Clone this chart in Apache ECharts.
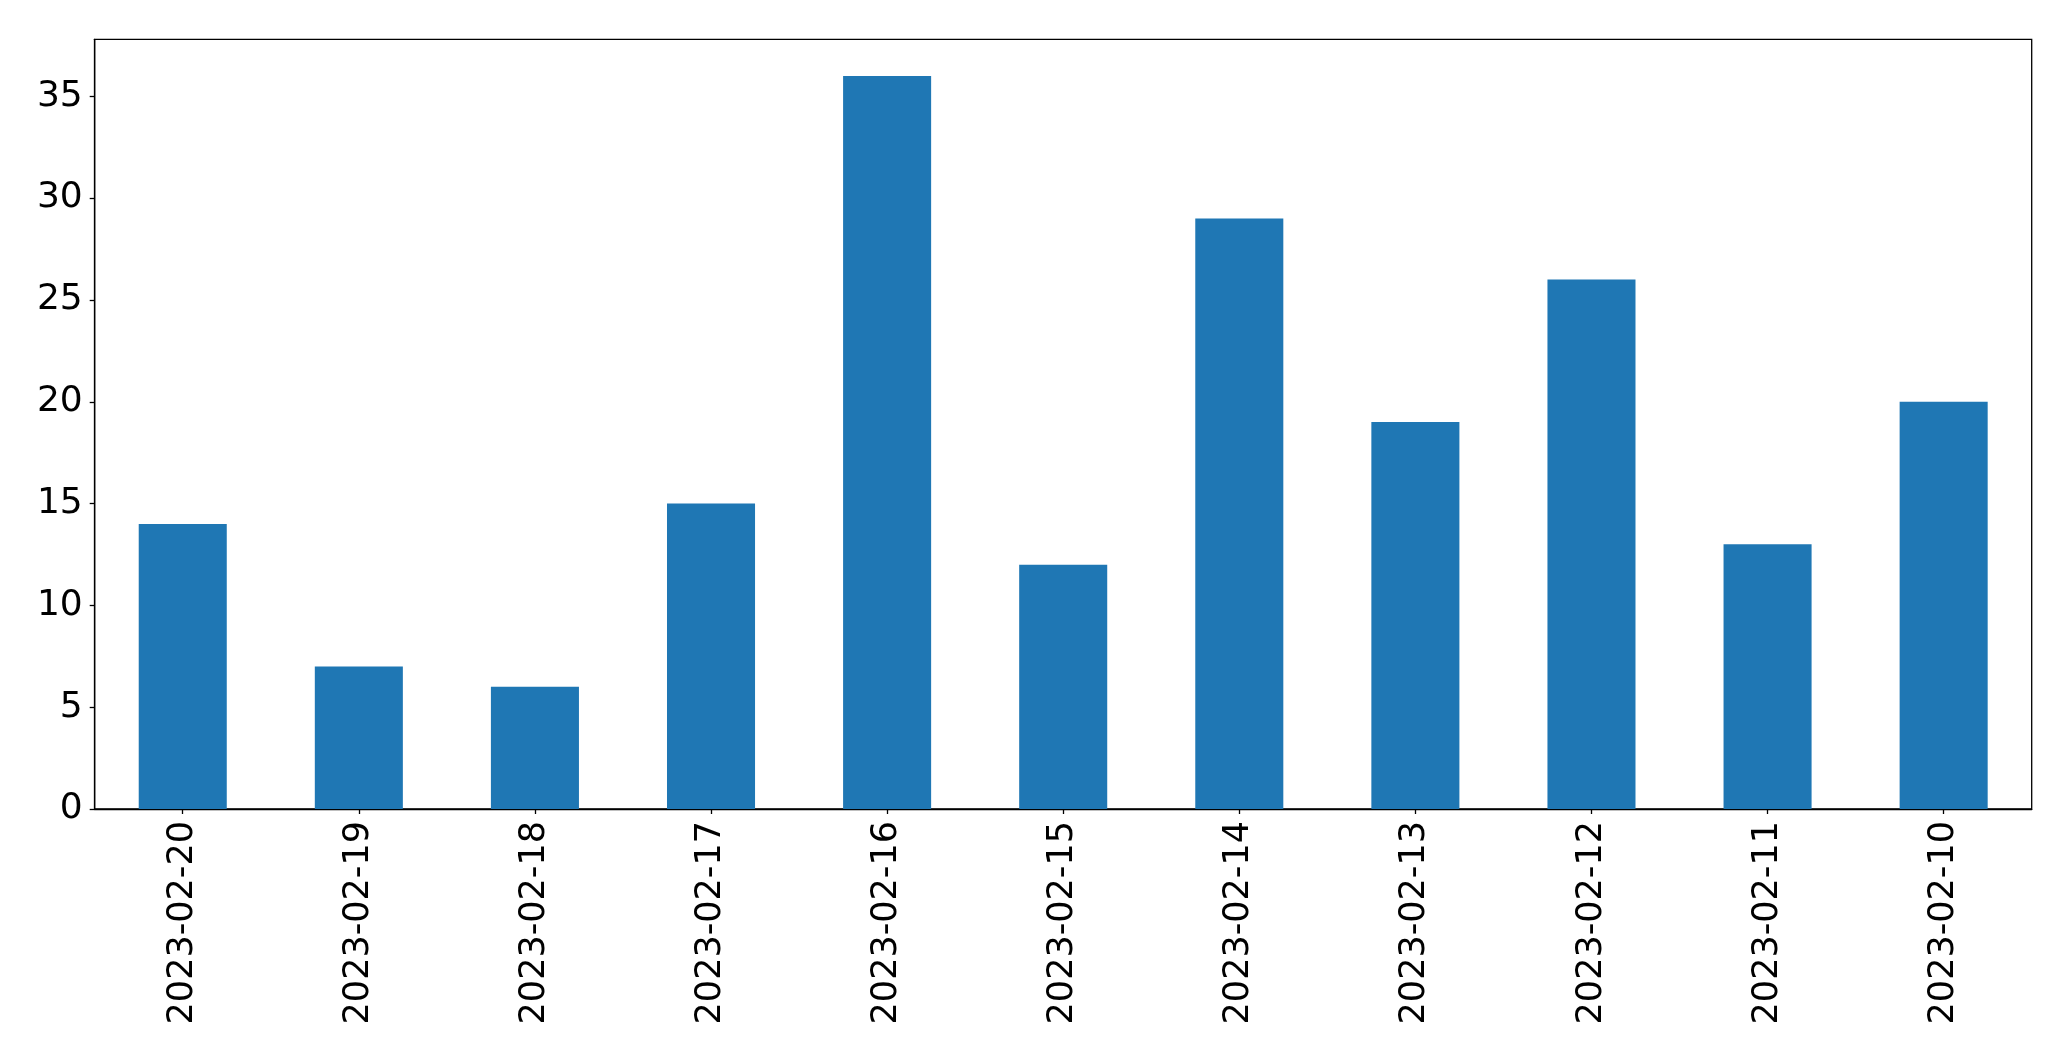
<!DOCTYPE html>
<html>
<head>
<meta charset="utf-8">
<script src="https://cdn.jsdelivr.net/npm/echarts@6/dist/echarts.min.js"></script>
<style>
html,body{margin:0;padding:0;background:#fff;}
#chart{width:2071px;height:1061px;}
</style>
</head>
<body>
<div id="chart"></div>
<script>
const categories = ["2023-02-20","2023-02-19","2023-02-18","2023-02-17","2023-02-16","2023-02-15","2023-02-14","2023-02-13","2023-02-12","2023-02-11","2023-02-10"];
const values = [14, 7, 6, 15, 36, 12, 29, 19, 26, 13, 20];
const yTicks = [0, 5, 10, 15, 20, 25, 30, 35];

const chart = echarts.init(document.getElementById('chart'), null, {renderer: 'canvas'});
const font = 'DejaVu Sans';
chart.setOption({
  animation: false,
  backgroundColor: '#fff',
  grid: {
    left: 94.7, right: 39.3, top: 39.3, bottom: 252,
    show: true, borderColor: '#000', borderWidth: 1.3, backgroundColor: 'transparent'
  },
  xAxis: {
    type: 'category',
    data: categories,
    boundaryGap: true,
    axisLine: {show: true, lineStyle: {color: '#000', width: 1.3}},
    axisTick: {show: true, alignWithLabel: true, length: 5, lineStyle: {color: '#000', width: 1.3}},
    axisLabel: {rotate: 90, margin: 12, color: '#000', fontFamily: font, fontSize: 35, interval: 0},
    splitLine: {show: false}
  },
  yAxis: {
    type: 'value',
    min: 0,
    max: 37.8,
    interval: 5,
    axisLine: {show: true, lineStyle: {color: '#000', width: 1.3}},
    axisTick: {show: true, length: 5, lineStyle: {color: '#000', width: 1.3}, customValues: yTicks},
    axisLabel: {margin: 12, color: '#000', fontFamily: font, fontSize: 36, customValues: yTicks},
    splitLine: {show: false}
  },
  series: [{
    type: 'bar',
    data: values,
    barWidth: '50%',
    itemStyle: {color: '#1f77b4'}
  }]
});
</script>
</body>
</html>
